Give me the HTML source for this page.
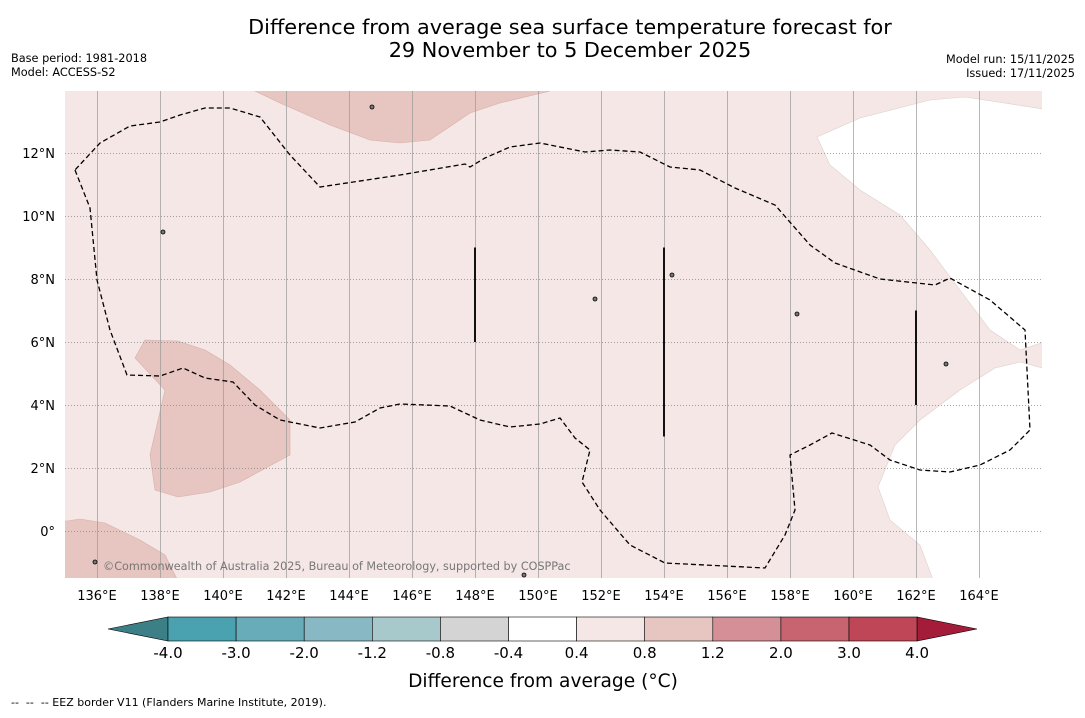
<!DOCTYPE html>
<html><head><meta charset="utf-8">
<style>
html,body{margin:0;padding:0;background:#fff;}
body{width:1085px;height:713px;overflow:hidden;font-family:"Liberation Sans","DejaVu Sans",sans-serif;}
svg text{font-family:"DejaVu Sans","Liberation Sans",sans-serif;}
</style></head>
<body>
<svg id="chart" width="1085" height="713" xmlns="http://www.w3.org/2000/svg">
<text x="570" y="34" font-size="20.8" text-anchor="middle">Difference from average sea surface temperature forecast for</text>
<text x="570" y="57" font-size="20.8" text-anchor="middle">29 November to 5 December 2025</text>
<text x="11" y="62" font-size="11.3">Base period: 1981-2018</text>
<text x="11" y="76" font-size="11.3">Model: ACCESS-S2</text>
<text x="1075" y="63" font-size="11.3" text-anchor="end">Model run: 15/11/2025</text>
<text x="1075" y="77" font-size="11.3" text-anchor="end">Issued: 17/11/2025</text>
<defs><clipPath id="mapclip"><rect x="65" y="91" width="977" height="487"/></clipPath></defs>
<g id="map" clip-path="url(#mapclip)"></g>
<g id="axes"></g>
<g id="cbar"></g>
<text x="543" y="687" font-size="18.6" text-anchor="middle">Difference from average (°C)</text>
<text x="11" y="706" font-size="11" xml:space="preserve">--  --  -- EEZ border V11 (Flanders Marine Institute, 2019).</text>
</svg>
<script>
const lonTicks=[136,138,140,142,144,146,148,150,152,154,156,158,160,162,164];
const latTicks=[0,2,4,6,8,10,12];
const cbLevels=["-4.0","-3.0","-2.0","-1.2","-0.8","-0.4","0.4","0.8","1.2","2.0","3.0","4.0"];
const cbColors=["#4aa2b0","#68abb9","#88b8c3","#a8c9cc","#d4d4d4","#ffffff","#f4e7e5","#e7c5c1","#d58f96","#c8646f","#bf4656"];
const cbLow="#3d7f86", cbHigh="#a51c3a";
function P(arr){return arr.map(p=>[136+(p[0]-97)/31.5,(531-p[1])/31.5]);}
const eez=P([[75,170],[90,208],[97,280],[110,330],[127,375],[160,376],[183,368],[205,378],[233,382],[255,405],[280,420],[320,428],[355,422],[380,408],[400,404],[450,406],[480,420],[510,427],[540,424],[560,418],[575,438],[590,450],[582,482],[600,510],[630,545],[665,563],[765,568],[785,535],[795,510],[790,455],[810,445],[832,433],[870,445],[890,460],[920,470],[950,472],[980,465],[1010,450],[1030,430],[1025,330],[990,300],[950,278],[935,285],[880,279],[835,263],[810,245],[775,205],[735,188],[700,170],[670,167],[640,152],[610,150],[585,152],[540,143],[510,147],[485,158],[470,167],[465,164],[400,175],[320,187],[290,155],[260,117],[230,108],[205,108],[180,115],[160,122],[130,126],[100,143],[75,170]]);
const blobTop=P([[255,85],[255,91],[280,103],[330,125],[370,140],[400,143],[430,140],[470,113],[500,103],[550,91],[550,85]]);
const blobLeft=P([[145,340],[135,358],[165,390],[150,455],[155,490],[178,497],[210,492],[240,482],[290,455],[290,420],[260,390],[230,365],[205,350],[178,341]]);
const blobBL=P([[60,522],[80,519],[105,523],[140,540],[165,555],[180,585],[60,585]]);
const whiteA=P([[817,137],[860,118],[930,100],[965,97],[1050,110],[1050,340],[1020,350],[990,330],[960,290],[930,250],[900,215],[860,190],[830,165]]);
const whiteB=P([[1050,370],[1020,362],[995,368],[960,390],[920,420],[895,445],[878,487],[890,520],[920,545],[935,585],[1050,585]]);
const vLines=[[148,6,9],[154,3,9],[162,4,7]];
const islands=P([[372,107],[163,232],[595,299],[672,275],[797,314],[946,364],[95,562],[524,575]]);
const xs=lon=>97+(lon-136)*31.5, ys=lat=>531-lat*31.5;
const NS="http://www.w3.org/2000/svg";
function mk(tag,attrs,parent){const e=document.createElementNS(NS,tag);for(const k in attrs)e.setAttribute(k,attrs[k]);parent.appendChild(e);return e;}
function path(pts){return "M"+pts.map(p=>xs(p[0]).toFixed(1)+","+ys(p[1]).toFixed(1)).join("L")+"Z";}
const map=document.getElementById("map"),axes=document.getElementById("axes"),cb=document.getElementById("cbar");
let e=mk("rect",{x:65,y:91,width:977,height:487,fill:"#f4e7e5"},map);


[[blobTop,"anomaly-region-north"],[blobLeft,"anomaly-region-west"],[blobBL,"anomaly-region-southwest"]].forEach(b=>{
 e=mk("path",{d:path(b[0]),fill:"#e7c5c1",stroke:"#d7b0ab","stroke-width":0.6},map);
 
 
});
[[whiteA,"neutral-region-northeast"],[whiteB,"neutral-region-east"]].forEach(b=>{
 e=mk("path",{d:path(b[0]),fill:"#ffffff",stroke:"#ddd0ce","stroke-width":0.6},map);
 
 
});
lonTicks.forEach(l=>{
 const gx=Math.round(xs(l))+0.5;
 e=mk("line",{x1:gx,x2:gx,y1:91,y2:578,stroke:"#999","stroke-width":0.7},map);
 
 
 e=mk("text",{x:xs(l),y:600,"font-size":13,"text-anchor":"middle"},axes);
 e.textContent=l+"°E";
 
 
});
latTicks.forEach(l=>{
 const gy=Math.round(ys(l))+0.5;
 e=mk("line",{x1:65,x2:1042,y1:gy,y2:gy,stroke:"#888","stroke-width":0.7,"stroke-dasharray":"1,2"},map);
 
 
 e=mk("text",{x:55,y:ys(l)+5,"font-size":13,"text-anchor":"end"},axes);
 e.textContent=(l===0?"0°":l+"°N");
 
 
});
e=mk("path",{d:path(eez),fill:"none",stroke:"#000","stroke-width":1.3,"stroke-dasharray":"5,3"},map);


vLines.forEach(v=>{
 e=mk("line",{x1:xs(v[0]),x2:xs(v[0]),y1:ys(v[1]),y2:ys(v[2]),stroke:"#111","stroke-width":2},map);
 
 
});
islands.forEach(p=>{
 e=mk("ellipse",{cx:xs(p[0]),cy:ys(p[1]),rx:2,ry:2,fill:"#777",stroke:"#000","stroke-width":0.8},map);
 
 
});
e=mk("text",{x:103,y:570,"font-size":11.2,fill:"#777"},map);
e.textContent="©Commonwealth of Australia 2025, Bureau of Meteorology, supported by COSPPac";


const cx0=168,cw=68.1,cy=617,ch=24;
e=mk("polygon",{points:`${cx0},${cy} ${cx0},${cy+ch} 108,${cy+ch/2}`,fill:cbLow,stroke:"#000","stroke-width":0.6},cb);


cbColors.forEach((c,i)=>{
 e=mk("rect",{x:cx0+i*cw,y:cy,width:cw,height:ch,fill:c,stroke:"#000","stroke-width":0.6},cb);
 
 
});
const xe=cx0+cbColors.length*cw;
e=mk("polygon",{points:`${xe},${cy} ${xe},${cy+ch} 977,${cy+ch/2}`,fill:cbHigh,stroke:"#000","stroke-width":0.6},cb);


cbLevels.forEach((t,i)=>{
 e=mk("text",{x:cx0+i*cw,y:658,"font-size":15,"text-anchor":"middle"},cb);
 e.textContent=t;
 
 
});
</script>
</body></html>
